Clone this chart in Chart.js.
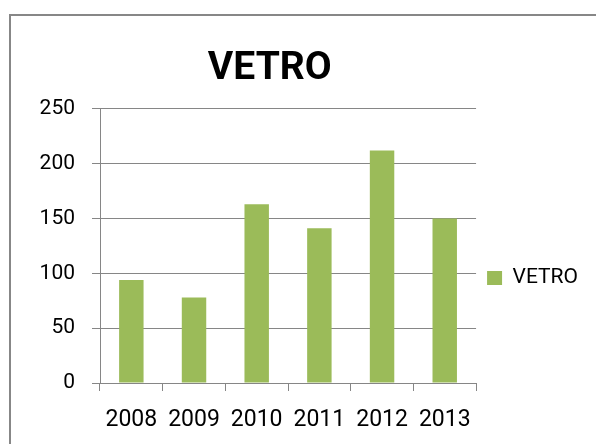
<!DOCTYPE html>
<html>
<head>
<meta charset="utf-8">
<script src="https://cdn.jsdelivr.net/npm/chart.js@4/dist/chart.umd.min.js"></script>
<style>
    body { margin: 0; background: #fff; width: 596px; height: 444px; overflow: hidden; position: relative; }
    #frame { position: absolute; left: 9px; top: 14px; width: 700px; height: 500px; border: 2px solid #878787; }
    #wrap { position: absolute; left: 0; top: 0; width: 596px; height: 444px; }
</style>
</head>
<body>
<div id="frame"></div>
<div id="wrap"><canvas id="chart" width="596" height="444"></canvas></div>
<script>
// Dati del grafico
const years = ['2008', '2009', '2010', '2011', '2012', '2013'];
const vetro = [94, 78, 163, 141, 212, 150];
const yTicks = [0, 50, 100, 150, 200, 250];

const gray = '#868686';

const ctx = document.getElementById('chart').getContext('2d');
new Chart(ctx, {
    type: 'bar',
    data: {
        labels: years,
        datasets: [{
            label: 'VETRO',
            data: vetro,
            backgroundColor: '#9BBB59',
            borderWidth: 0,
            barPercentage: 0.39,
            categoryPercentage: 1
        }]
    },
    options: {
        responsive: false,
        animation: false,
        layout: { padding: { left: 0, right: 8, top: 0, bottom: 0 } },
        plugins: {
            tooltip: { enabled: false },
            title: {
                display: true,
                // spazi finali per spostare il titolo a sinistra come nell'originale
                text: 'VETRO\u00a0\u00a0\u00a0\u00a0\u00a0',
                color: '#000',
                font: { family: 'Roboto', size: 39, weight: 'bold' },
                padding: { top: 46, bottom: 16 }
            },
            legend: {
                position: 'right',
                title: {
                    display: true,
                    text: ' ',
                    font: { size: 10 },
                    padding: { top: 0, bottom: 100 }
                },
                labels: {
                    boxWidth: 15,
                    boxHeight: 14,
                    padding: 11,
                    color: '#000',
                    font: { family: 'Roboto', size: 21 }
                }
            }
        },
        scales: {
            x: {
                afterFit: (s) => { s.height = 61; },
                grid: { drawOnChartArea: false, color: gray, tickLength: 8 },
                border: { color: gray, width: 1 },
                ticks: { color: '#000', padding: 15, font: { family: 'Roboto', size: 23 } }
            },
            y: {
                min: 0,
                max: 250,
                afterFit: (s) => { s.width = 100; },
                afterBuildTicks: (s) => { s.ticks = yTicks.map(v => ({ value: v })); },
                grid: { color: gray, tickLength: 8 },
                border: { color: gray, width: 1 },
                ticks: { color: '#000', padding: 17, font: { family: 'Roboto', size: 21 } }
            }
        }
    }
});
</script>
</body>
</html>
